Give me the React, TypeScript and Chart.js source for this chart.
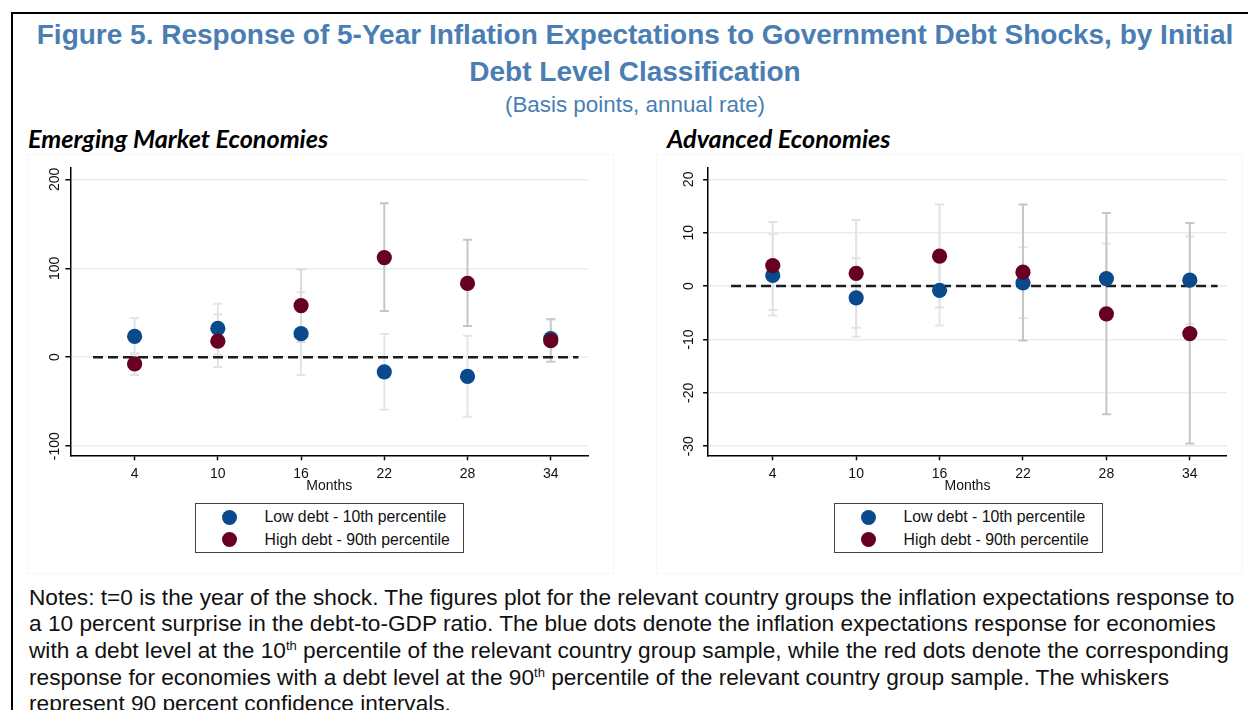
import React, { useEffect, useRef } from "react";
import { Chart, registerables } from "chart.js";

Chart.register(...registerables);

// ---------- data ----------
const MONTHS = [4, 10, 16, 22, 28, 34];
const X_TICKS = [4, 10, 16, 22, 28, 34];
const REF_LINE_X = [1, 36];

// Emerging market economies (basis points)
const EM_LOW = [23.5, 32.4, 26.5, -16.4, -21.6, 21];
const EM_LOW_LO = [3, 3, -20, -59, -67, 0];
const EM_LOW_HI = [44, 60, 73, 26, 24, 42];
const EM_HIGH = [-7.5, 18, 58, 112, 83, 18.6];
const EM_HIGH_LO = [-20, -11, 17, 52, 35, -5];
const EM_HIGH_HI = [5, 48, 99, 173, 132, 43];
const EM_Y_TICKS = [-100, 0, 100, 200];

// Advanced economies (basis points)
const AE_LOW = [2.0, -2.2, -0.8, 0.6, 1.4, 1.1];
const AE_LOW_LO = [-5.5, -9.5, -7.4, -6.0, -5.2, -7.1];
const AE_LOW_HI = [9.75, 5.2, 5.8, 7.3, 8.0, 9.3];
const AE_HIGH = [3.85, 2.4, 5.6, 2.6, -5.2, -8.9];
const AE_HIGH_LO = [-4.5, -7.8, -4.0, -10.2, -24, -29.5];
const AE_HIGH_HI = [12, 12.4, 15.3, 15.3, 13.7, 11.8];
const AE_Y_TICKS = [-30, -20, -10, 0, 10, 20];

const LEGEND_LABELS = ["Low debt - 10th percentile", "High debt - 90th percentile"];

// ---------- styles ----------
const BLUE = "#0a4a8c";
const RED = "#670022";
const BLUE_CI = "#dde8ee";
const CI_LIGHT = "#e2e2e2";
const CI_DARK = "#c6c6c6";
const EM_HIGH_CI_COLORS = [CI_LIGHT, CI_LIGHT, "#dadada", CI_DARK, CI_DARK, "#cbcbcb"];
const AE_HIGH_CI_COLORS = [CI_LIGHT, CI_LIGHT, CI_LIGHT, CI_DARK, CI_DARK, CI_DARK];
const GRID = "#e4eef0";
const TITLE_BLUE = "#4a7eb3";
const FONT = "'Liberation Sans', Arial, sans-serif";

const errorBarPlugin = {
  id: "errorBars",
  beforeDatasetsDraw(chart: any, _args: any, opts: any) {
    const { ctx } = chart;
    const xs = chart.scales.x;
    const ys = chart.scales.y;
    ctx.save();
    ctx.lineWidth = 2;
    ctx.lineCap = "butt";
    for (const s of opts.series || []) {
      s.lo.forEach((lo: number, i: number) => {
        const px = xs.getPixelForValue(s.x[i]);
        const p1 = ys.getPixelForValue(lo);
        const p2 = ys.getPixelForValue(s.hi[i]);
        ctx.strokeStyle = s.colors[i];
        ctx.beginPath();
        ctx.moveTo(px, p1);
        ctx.lineTo(px, p2);
        ctx.moveTo(px - 4.5, p1);
        ctx.lineTo(px + 4.5, p1);
        ctx.moveTo(px - 4.5, p2);
        ctx.lineTo(px + 4.5, p2);
        ctx.stroke();
      });
    }
    ctx.restore();
  },
};

type PanelProps = {
  left: number;
  top: number;
  width: number;
  height: number;
  yAxisW: number;
  xAxisH: number;
  padTop: number;
  padRight: number;
  xMin: number;
  xMax: number;
  yMin: number;
  yMax: number;
  yTicks: number[];
  yLabelPad: number;
  low: number[];
  lowLo: number[];
  lowHi: number[];
  high: number[];
  highLo: number[];
  highHi: number[];
  highCIColors: string[];
};

function ChartPanel(p: PanelProps) {
  const ref = useRef<HTMLCanvasElement | null>(null);
  useEffect(() => {
    if (!ref.current) return;
    const tickFont = { family: FONT, size: 14 };
    const chart = new Chart(ref.current, {
      type: "scatter",
      data: {
        datasets: [
          {
            label: LEGEND_LABELS[1],
            data: MONTHS.map((m, i) => ({ x: m, y: p.high[i] })),
            backgroundColor: RED,
            borderWidth: 0,
            pointRadius: 7.6,
            pointHoverRadius: 7.6,
          },
          {
            label: LEGEND_LABELS[0],
            data: MONTHS.map((m, i) => ({ x: m, y: p.low[i] })),
            backgroundColor: BLUE,
            borderWidth: 0,
            pointRadius: 7.6,
            pointHoverRadius: 7.6,
          },
          {
            type: "line",
            label: "zero",
            data: REF_LINE_X.map((x) => ({ x, y: 0 })),
            borderColor: "#1c1c1c",
            borderWidth: 2.5,
            borderDash: [10, 5],
            pointRadius: 0,
            fill: false,
          } as any,
        ],
      },
      options: {
        animation: false,
        responsive: false,
        events: [],
        layout: { padding: { top: p.padTop, right: p.padRight, left: 0, bottom: 0 } },
        plugins: {
          legend: { display: false },
          tooltip: { enabled: false },
          errorBars: {
            series: [
              { x: MONTHS, lo: p.lowLo, hi: p.lowHi, colors: MONTHS.map(() => BLUE_CI) },
              { x: MONTHS, lo: p.highLo, hi: p.highHi, colors: p.highCIColors },
            ],
          },
        } as any,
        scales: {
          x: {
            type: "linear",
            min: p.xMin,
            max: p.xMax,
            afterBuildTicks: (s: any) => {
              s.ticks = X_TICKS.map((v) => ({ value: v }));
            },
            afterFit: (s: any) => {
              s.height = p.xAxisH;
              s.paddingLeft = 0;
              s.paddingRight = 0;
            },
            ticks: { font: tickFont, color: "#111", padding: 5, autoSkip: false, maxRotation: 0 },
            grid: { drawOnChartArea: false, tickLength: 5, tickColor: "#000", tickWidth: 1.5 },
            border: { color: "#000", width: 1.5 },
            title: {
              display: true,
              text: "Months",
              font: tickFont,
              color: "#111",
              padding: { top: 0, bottom: 5.5 },
            },
          },
          y: {
            type: "linear",
            min: p.yMin,
            max: p.yMax,
            afterBuildTicks: (s: any) => {
              s.ticks = p.yTicks.map((v) => ({ value: v }));
            },
            afterFit: (s: any) => {
              s.width = p.yAxisW;
              s.paddingTop = 0;
              s.paddingBottom = 0;
            },
            ticks: {
              font: tickFont,
              color: "#111",
              padding: p.yLabelPad,
              minRotation: 90,
              maxRotation: 90,
              crossAlign: "center",
            },
            grid: { color: GRID, lineWidth: 1.5, tickLength: 5, tickColor: "#000", tickWidth: 1.5 },
            border: { color: "#000", width: 1.5 },
          },
        },
      } as any,
      plugins: [errorBarPlugin as any],
    });
    return () => chart.destroy();
  }, []);
  return (
    <canvas
      ref={ref}
      width={p.width}
      height={p.height}
      style={{ position: "absolute", left: p.left, top: p.top, width: p.width, height: p.height }}
    />
  );
}

function Legend({ left }: { left: number }) {
  const item = (color: string, text: string, cy: number) => (
    <div style={{ position: "absolute", left: 0, top: cy - 10, height: 20, width: "100%" }}>
      <div
        style={{
          position: "absolute",
          left: 26.5,
          top: 2.5,
          width: 15,
          height: 15,
          borderRadius: "50%",
          background: color,
        }}
      />
      <div
        style={{
          position: "absolute",
          left: 69,
          top: 0,
          lineHeight: "20px",
          fontSize: 15.8,
          fontFamily: FONT,
          color: "#111",
          whiteSpace: "nowrap",
        }}
      >
        {text}
      </div>
    </div>
  );
  return (
    <div
      style={{
        position: "absolute",
        left,
        top: 502.5,
        width: 267,
        height: 48,
        border: "1.2px solid #444",
      }}
    >
      {item(BLUE, LEGEND_LABELS[0], 13.5)}
      {item(RED, LEGEND_LABELS[1], 36)}
    </div>
  );
}

const noteStyle: React.CSSProperties = {
  position: "absolute",
  left: 29,
  fontFamily: FONT,
  fontSize: 22.67,
  lineHeight: "26px",
  color: "#111",
  whiteSpace: "nowrap",
};
const sup: React.CSSProperties = { fontSize: 13, verticalAlign: "top", lineHeight: "18px" };

const panelTitle: React.CSSProperties = {
  position: "absolute",
  top: 122,
  fontFamily: "Lato, 'Open Sans', sans-serif",
  fontWeight: "bold",
  fontStyle: "italic",
  fontSize: 25.2,
  lineHeight: "32px",
  color: "#000",
  whiteSpace: "nowrap",
};

export default function App() {
  return (
    <div
      style={{
        position: "absolute",
        left: 0,
        top: 0,
        width: 1248,
        height: 710,
        overflow: "hidden",
        background: "#fff",
      }}
    >
      <div
        style={{
          position: "absolute",
          left: 11,
          top: 12,
          width: 1400,
          height: 900,
          borderTop: "2.5px solid #000",
          borderLeft: "2.5px solid #000",
        }}
      />
      <div
        style={{
          position: "absolute",
          left: 35,
          width: 1200,
          top: 16,
          textAlign: "center",
          fontFamily: FONT,
          fontWeight: "bold",
          fontSize: 28,
          lineHeight: "37px",
          color: TITLE_BLUE,
        }}
      >
        <div style={{ whiteSpace: "nowrap" }}>
          Figure 5. Response of 5-Year Inflation Expectations to Government Debt Shocks, by Initial
        </div>
        <div>Debt Level Classification</div>
      </div>
      <div
        style={{
          position: "absolute",
          left: 35,
          width: 1200,
          top: 92,
          textAlign: "center",
          fontFamily: FONT,
          fontSize: 22.4,
          lineHeight: "26px",
          color: TITLE_BLUE,
        }}
      >
        (Basis points, annual rate)
      </div>

      {/* panel frames */}
      <div style={{ position: "absolute", left: 27, top: 154, width: 585, height: 418, border: "1px solid #f6f7f7" }} />
      <div style={{ position: "absolute", left: 656, top: 154, width: 585, height: 418, border: "1px solid #f6f7f7" }} />

      <div style={{ ...panelTitle, left: 28 }}>Emerging Market Economies</div>
      <div style={{ ...panelTitle, left: 667 }}>Advanced Economies</div>

      <ChartPanel
        left={20}
        top={160}
        width={580}
        height={340}
        yAxisW={50.4}
        xAxisH={44.7}
        padTop={6}
        padRight={11.8}
        xMin={-0.63}
        xMax={36.7}
        yMin={-110.3}
        yMax={213.2}
        yTicks={EM_Y_TICKS}
        yLabelPad={-3.6}
        low={EM_LOW}
        lowLo={EM_LOW_LO}
        lowHi={EM_LOW_HI}
        high={EM_HIGH}
        highLo={EM_HIGH_LO}
        highHi={EM_HIGH_HI}
        highCIColors={EM_HIGH_CI_COLORS}
      />
      <ChartPanel
        left={655}
        top={160}
        width={585}
        height={340}
        yAxisW={53.1}
        xAxisH={44.7}
        padTop={6}
        padRight={13.2}
        xMin={-0.65}
        xMax={36.66}
        yMin={-31.7}
        yMax={22.2}
        yTicks={AE_Y_TICKS}
        yLabelPad={3.4}
        low={AE_LOW}
        lowLo={AE_LOW_LO}
        lowHi={AE_LOW_HI}
        high={AE_HIGH}
        highLo={AE_HIGH_LO}
        highHi={AE_HIGH_HI}
        highCIColors={AE_HIGH_CI_COLORS}
      />

      <Legend left={194.5} />
      <Legend left={833.5} />

      <div style={{ ...noteStyle, top: 584 }}>
        Notes: t=0 is the year of the shock. The figures plot for the relevant country groups the inflation expectations response to
      </div>
      <div style={{ ...noteStyle, top: 610 }}>
        a 10 percent surprise in the debt-to-GDP ratio. The blue dots denote the inflation expectations response for economies
      </div>
      <div style={{ ...noteStyle, top: 637 }}>
        with a debt level at the 10<span style={sup}>th</span> percentile of the relevant country group sample, while the red dots denote the corresponding
      </div>
      <div style={{ ...noteStyle, top: 663.5 }}>
        response for economies with a debt level at the 90<span style={sup}>th</span> percentile of the relevant country group sample. The whiskers
      </div>
      <div style={{ ...noteStyle, top: 690 }}>represent 90 percent confidence intervals.</div>
    </div>
  );
}
